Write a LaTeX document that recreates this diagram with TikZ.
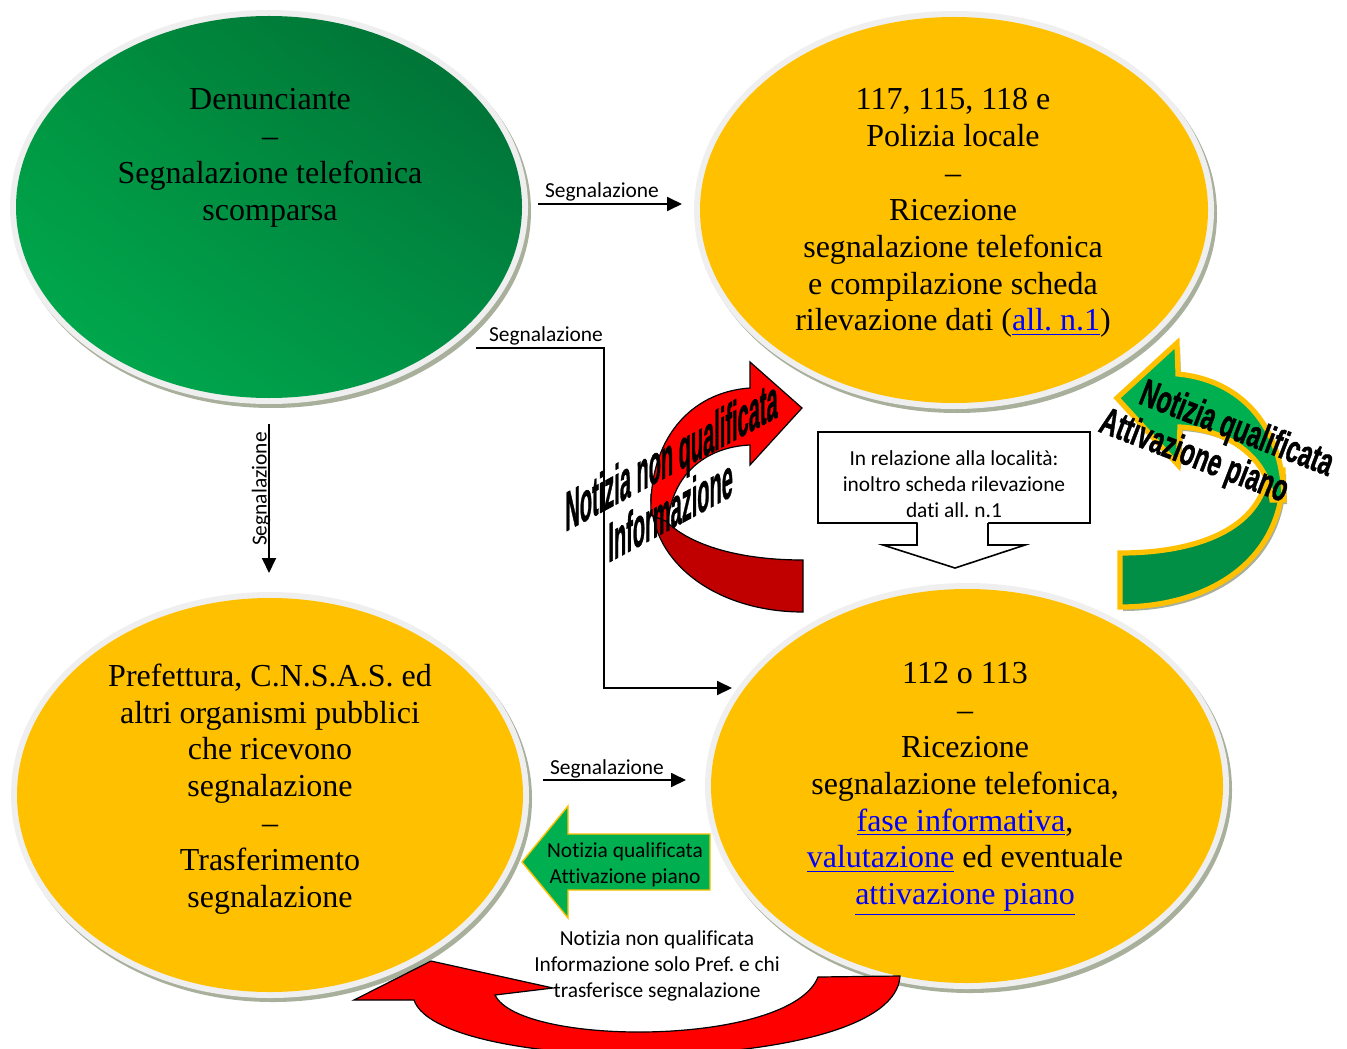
\documentclass[tikz,border=0pt]{standalone}
\usepackage{fontspec}
\setmainfont{Liberation Serif}
\newfontfamily\calfont{Carlito}[Ligatures=NoCommon]
\newfontfamily\artfont{Liberation Sans}[FakeBold=1.3]
\usetikzlibrary{shapes.geometric,arrows.meta,shadings}
\definecolor{ringgray}{HTML}{EFEFEF}
\definecolor{shadowgray}{HTML}{A8B09C}
\definecolor{gold}{HTML}{FFC000}
\definecolor{grnA}{HTML}{00B050}
\definecolor{grnB}{HTML}{006A33}
\definecolor{grnC}{HTML}{00913F}
\definecolor{grnD}{HTML}{008F45}
\definecolor{redA}{HTML}{FF0000}
\definecolor{redB}{HTML}{C00000}
\definecolor{linkblue}{HTML}{0000FF}
\newcommand\lnk[1]{\textcolor{linkblue}{\underline{#1}}}
\frenchspacing
\tikzset{
  shadowblob/.style={ellipse, fill=shadowgray, inner sep=0},
  ringblob/.style={ellipse, fill=ringgray, inner sep=0},
  blob/.style={ellipse, inner sep=0},
  bigtext/.style={align=center, inner sep=0, font=\frenchspacing\fontsize{16}{18.45}\selectfont},
  lbl/.style={inner sep=0, font=\calfont\fontsize{10.7}{13}\selectfont},
  smalltext/.style={align=center, inner sep=0, font=\frenchspacing\calfont\fontsize{10.7}{13}\selectfont},
  conn/.style={line width=0.9pt, -{Triangle[length=7.5pt,width=7pt]}},
  arttext/.style={transform shape, inner sep=0, anchor=base west, font=\artfont\bfseries\fontsize{10}{12}\selectfont},
  garttext/.style={transform shape, inner sep=0, anchor=base west, font=\artfont\bfseries\fontsize{12}{14}\selectfont},
}
\begin{document}
\begin{tikzpicture}[x=0.5pt,y=-0.5pt]
\useasboundingbox (0,0) rectangle (1347,1048);
\clip (0,0) rectangle (1347,1048);

% ---- ellipses ----
% top-left (green)
\node[shadowblob, minimum width=259pt, minimum height=197pt] at (272,211) {};
\node[ringblob, minimum width=259pt, minimum height=197pt] at (269,207) {};
\node[blob, minimum width=253pt, minimum height=191pt, shade,
  upper left=grnC, upper right=grnB, lower left=grnA, lower right=grnD] (tl) at (269,207) {};
% top-right
\node[shadowblob, minimum width=260pt, minimum height=199pt] at (957,214) {};
\node[ringblob, minimum width=260pt, minimum height=199pt] at (954,210) {};
\node[blob, minimum width=254pt, minimum height=193pt, fill=gold] (tr) at (954,210) {};
% bottom-left
\node[shadowblob, minimum width=259pt, minimum height=203pt] at (273,799) {};
\node[ringblob, minimum width=259pt, minimum height=203pt] at (270,795) {};
\node[blob, minimum width=253pt, minimum height=197pt, fill=gold] (bl) at (270,795) {};
% bottom-right
\node[shadowblob, minimum width=262pt, minimum height=203pt] at (970,790) {};
\node[ringblob, minimum width=262pt, minimum height=203pt] at (967,786) {};
\node[blob, minimum width=256pt, minimum height=197pt, fill=gold] (br) at (967,786) {};

% ---- ellipse texts ----
\node[bigtext] (tltext) at (270,158) {Denunciante\\–\\Segnalazione telefonica\\scomparsa};
\node[bigtext] (trtext) at (953,213) {117, 115, 118 e\\Polizia locale\\–\\Ricezione\\segnalazione telefonica\\e compilazione scheda\\rilevazione dati (\lnk{all. n.1})};
\node[bigtext] (bltext) at (270,789) {Prefettura, C.N.S.A.S. ed\\altri organismi pubblici\\che ricevono\\segnalazione\\–\\Trasferimento\\segnalazione};
\node[bigtext] (brtext) at (965,789) {112 o 113\\–\\Ricezione\\segnalazione telefonica,\\\lnk{fase informativa},\\\lnk{valutazione} ed eventuale\\\lnk{attivazione piano}};

% ---- connectors ----
\coordinate (c1a) at (538,204);
\coordinate (c1b) at (682,204);
\draw[conn] (c1a) -- (c1b);
\node[lbl] (l1) at (602,192) {Segnalazione};

\coordinate (c2a) at (476,348);
\coordinate (c2k1) at (604,348);
\coordinate (c2k2) at (604,688);
\coordinate (c2b) at (732,688);
\draw[conn] (c2a) -- (c2k1) -- (c2k2) -- (c2b);
\node[lbl] (l2) at (546,336) {Segnalazione};

\coordinate (c3a) at (269,424);
\coordinate (c3b) at (269,573);
\draw[conn] (c3a) -- (c3b);
\node[lbl, rotate=90] (l3) at (261,489) {Segnalazione};

\coordinate (c4a) at (543,780);
\coordinate (c4b) at (686,780);
\draw[conn] (c4a) -- (c4b);
\node[lbl] (l4) at (607,769) {Segnalazione};

% ---- callout box ----
\node[draw, line width=0.8pt, minimum width=136pt, minimum height=45.5pt, inner sep=0] (box) at (954,477.5) {};
\node[smalltext] (boxtext) at (954,484) {In relazione alla località:\\inoltro scheda rilevazione\\dati all. n.1};
\fill[white] (917.5,521) -- (917.5,545) -- (883,545) -- (955,568) -- (1025,545) -- (988,545) -- (988,521) -- cycle;
\draw[line width=0.8pt, line join=miter] (917,523) -- (917,545) -- (883,545) -- (955,568) -- (1025,545) -- (988,545) -- (988,523);

% ---- red curved arrow (top) ----
\draw[line width=0.6pt, fill=redB] (651,497) .. controls (662,535) and (720,560) .. (803,560) -- (803,612) .. controls (719,612) and (651,565) .. (651,497) -- cycle;
\draw[line width=0.6pt, fill=redA, line join=miter] (651,515) .. controls (648,440) and (690,392) .. (750,388) -- (750,362) -- (802,408) -- (750,465) -- (750,445) .. controls (705,447) and (672,475) .. (668,522) -- cycle;
\begin{scope}[shift={(565,532)}, yslant=0.54, yscale=2.8]
  \node[arttext] (rt1) at (0,0) {Notizia non qualificata};
\end{scope}
\begin{scope}[shift={(608,563)}, yslant=0.54, yscale=2.8]
  \node[arttext] (rt2) at (0,0) {Informazione};
\end{scope}

% ---- green curved arrow (right) ----
\begin{scope}[shift={(3,4)}]
\fill[shadowgray] (1283,470) .. controls (1285,560) and (1210,607) .. (1120,607) -- (1120,553) .. controls (1195,553) and (1262,530) .. (1268,470) -- cycle;
\fill[shadowgray] (1178,374) -- (1177,343) -- (1117,398) -- (1178,465) -- (1180,427) .. controls (1232,430) and (1268,460) .. (1272,500) -- (1284,500) .. controls (1283,425) and (1240,380) .. (1178,374) -- cycle;
\end{scope}
\draw[draw=gold, line width=2.6pt, fill=grnD, line join=miter] (1283,470) .. controls (1285,560) and (1210,607) .. (1120,607) -- (1120,553) .. controls (1195,553) and (1262,530) .. (1268,470) -- cycle;
\draw[draw=gold, line width=2.6pt, fill=grnA, line join=miter] (1178,374) -- (1177,343) -- (1117,398) -- (1178,465) -- (1180,427) .. controls (1232,430) and (1268,460) .. (1272,500) -- (1284,500) .. controls (1283,425) and (1240,380) .. (1178,374) -- cycle;
\begin{scope}[shift={(1137,403)}, rotate=-21, yscale=1.6]
  \node[garttext] (gt1) at (0,0) {Notizia qualificata};
\end{scope}
\begin{scope}[shift={(1097,431)}, rotate=-21, yscale=1.6]
  \node[garttext] (gt2) at (0,0) {Attivazione piano};
\end{scope}

% ---- green straight arrow (bottom) ----
\draw[draw=gold, line width=0.7pt, fill=grnA] (522,862) -- (568,806) -- (568,834) -- (710,834) -- (710,890) -- (568,890) -- (568,918) -- cycle;
\node[smalltext] (garrow) at (625,865) {Notizia qualificata\\Attivazione piano};

% ---- red curved arrow (bottom) ----
\draw[line width=0.6pt, fill=redA, line join=miter] (354,1000) -- (431,961) -- (553,988) -- (495,995) .. controls (520,1047) and (790,1047) .. (818,977) -- (900,976) .. controls (895,1077) and (440,1077) .. (414,1000) -- cycle;
\node[smalltext] (redtext) at (657,966) {Notizia non qualificata\\Informazione solo Pref. e chi\\trasferisce segnalazione};
\end{tikzpicture}
\end{document}
